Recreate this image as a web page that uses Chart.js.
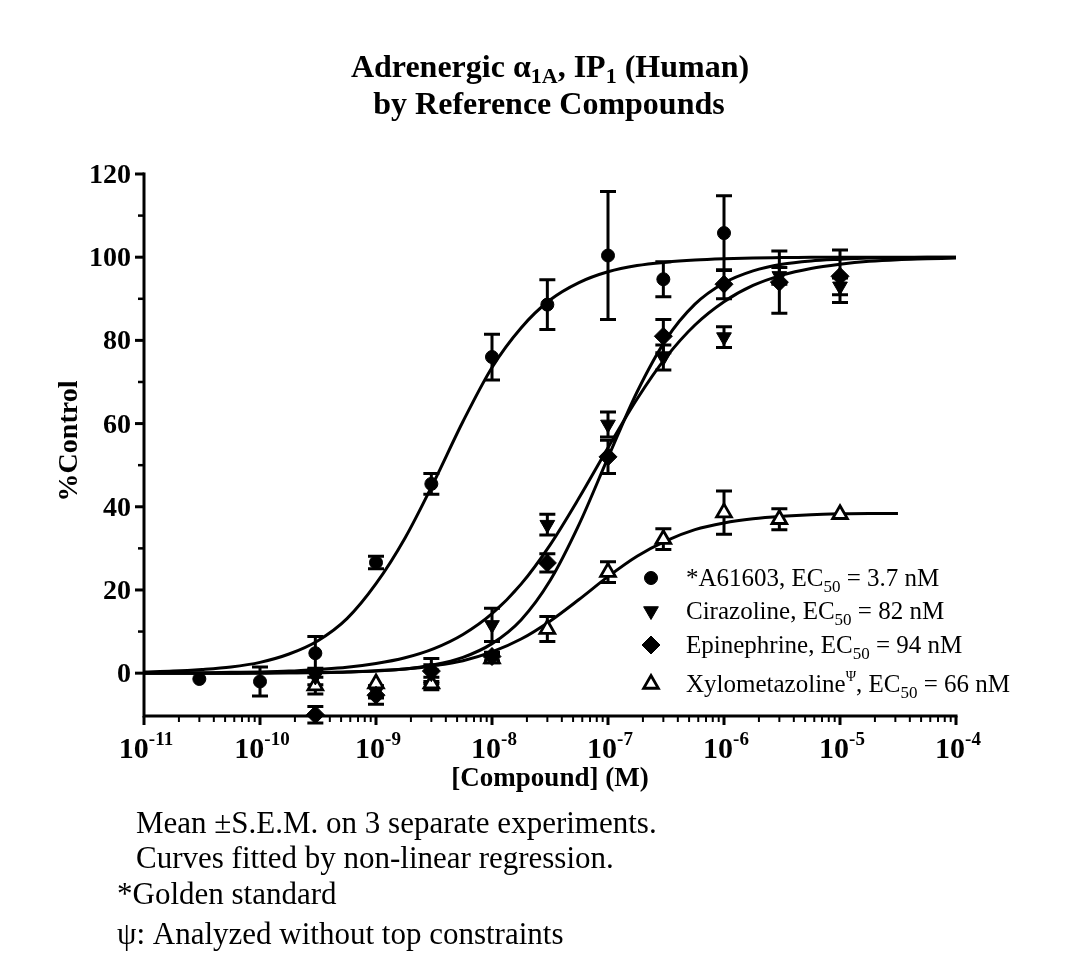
<!DOCTYPE html>
<html><head><meta charset="utf-8">
<script src="https://cdn.jsdelivr.net/npm/chart.js@4.4.1/dist/chart.umd.min.js"></script>
<style>html,body{margin:0;padding:0;background:#fff;overflow:hidden;} canvas{display:block;}</style>
</head><body>
<canvas id="c" width="1081" height="957"></canvas>
<script>
// ---------- data ----------
const concA = [3e-11, 1e-10, 3e-10, 1e-9, 3e-9, 1e-8, 3e-8, 1e-7, 3e-7, 1e-6];
const a61603Mean = [-1.4, -2.0, 4.8, 26.6, 45.5, 76.0, 88.6, 100.4, 94.7, 105.8];
const a61603Sem  = [0, 3.5, 4.0, 1.5, 2.5, 5.5, 6.0, 15.4, 4.2, 9.0];

const concB = [3e-10, 1e-9, 3e-9, 1e-8, 3e-8, 1e-7, 3e-7, 1e-6, 3e-6, 1e-5];
const cirazolineMean = [-0.8, -4.5, 0.0, 11.6, 35.7, 59.8, 75.9, 80.8, 95.5, 93.0];
const cirazolineSem  = [2.0, 1.5, 2.0, 4.0, 2.5, 3.0, 3.0, 2.5, 2.0, 2.0];
const epinephrineMean = [-10.0, -5.3, 0.5, 4.0, 26.5, 52.0, 81.0, 93.5, 94.0, 95.4];
const epinephrineSem  = [2.0, 2.2, 3.0, 1.0, 2.2, 4.0, 4.0, 3.5, 7.5, 6.3];
const xyloMean = [-3.0, -2.5, -2.5, 3.5, 10.6, 24.3, 32.2, 38.6, 37.0, 38.2];
const xyloSem  = [2.0, 0, 1.5, 1.0, 3.0, 2.5, 2.5, 5.2, 2.5, 0];

// fitted curves, read at quarter-decade steps
const curveConc = [1e-11, 1.78e-11, 3.16e-11, 5.62e-11, 1e-10, 1.78e-10, 3.16e-10, 5.62e-10,
  1e-9, 1.78e-9, 3.16e-9, 5.62e-9, 1e-8, 1.78e-8, 3.16e-8, 5.62e-8, 1e-7, 1.78e-7, 3.16e-7, 5.62e-7,
  1e-6, 1.78e-6, 3.16e-6, 5.62e-6, 1e-5, 1.78e-5, 3.16e-5, 5.62e-5, 1e-4];
const a61603Curve = [0.3, 0.5, 0.9, 1.5, 2.6, 4.6, 7.8, 13.1, 21.5, 32.5, 46.0, 60.5, 73.5, 83.0, 89.7, 93.9,
  96.5, 98.0, 98.8, 99.3, 99.6, 99.8, 99.9, 100, 100, 100, 100, 100, 100];
const cirazolineCurve = [0.1, 0.1, 0.1, 0.2, 0.3, 0.5, 0.9, 1.4, 2.3, 3.7, 5.9, 9.3, 14.3, 21.4, 30.8, 42.1,
  54.2, 65.9, 75.9, 83.7, 89.3, 93.2, 95.7, 97.3, 98.3, 99.0, 99.4, 99.6, 99.8];
const epinephrineCurve = [0, 0, 0, 0, 0, 0.1, 0.1, 0.3, 0.5, 1.0, 2.0, 3.8, 7.1, 12.8, 22.2, 35.7,
  51.8, 67.6, 80.2, 88.7, 93.8, 96.7, 98.3, 99.1, 99.5, 99.8, 99.9, 100, 100];
const xyloCurve = [0, 0, 0, 0, 0.1, 0.1, 0.2, 0.3, 0.6, 1.0, 1.8, 3.0, 5.1, 8.2, 12.5, 17.7,
  23.2, 28.1, 31.8, 34.5, 36.1, 37.1, 37.7, 38.1, 38.3, 38.4, 38.4, null, null];

// axes / ticks / text
const xTickValues = [1e-11, 1e-10, 1e-9, 1e-8, 1e-7, 1e-6, 1e-5, 1e-4];
const xTickSuperscripts = ['-11', '-10', '-9', '-8', '-7', '-6', '-5', '-4'];
const xMinorMultipliers = [2, 3, 4, 5, 6, 7, 8, 9];
const yTickValues = [0, 20, 40, 60, 80, 100, 120];
const yMinorValues = [10, 30, 50, 70, 90, 110];
const seriesNames = ['*A61603', 'Cirazoline', 'Epinephrine', 'Xylometazoline'];
const seriesEC50 = ['3.7 nM', '82 nM', '94 nM', '66 nM'];
const footnotes = ['Mean \u00B1S.E.M. on 3 separate experiments.', 'Curves fitted by non-linear regression.',
  '*Golden standard', '\u03C8: Analyzed without top constraints'];

// ---------- rendering ----------
const SERIF = '"Liberation Serif", "Times New Roman", serif';
const pts = (xs, ys) => xs.map((x, i) => ({x: x, y: ys[i]})).filter(p => p.y !== null);

function curveDs(ys) {
  return {type: 'line', data: pts(curveConc, ys), borderColor: '#000', borderWidth: 3,
    pointRadius: 0, cubicInterpolationMode: 'monotone', fill: false, order: 2, clip: false};
}
const markerStyles = [
  {pointStyle: 'circle', radius: 6.5, rotation: 0, fill: '#000', bw: 1},
  {pointStyle: 'triangle', radius: 8.5, rotation: 180, fill: '#000', bw: 1},
  {pointStyle: 'rectRot', radius: 9, rotation: 0, fill: '#000', bw: 1},
  {pointStyle: 'triangle', radius: 8.5, rotation: 0, fill: '#fff', bw: 2.8}
];
function pointDs(xs, ys, sem, k) {
  const m = markerStyles[k];
  return {type: 'scatter', data: pts(xs, ys), sem: sem, pointStyle: m.pointStyle, pointRadius: m.radius,
    rotation: m.rotation, backgroundColor: m.fill, borderColor: '#000', borderWidth: m.bw,
    showLine: false, order: 1, clip: false};
}

function drawRuns(ctx, runs, x, y, align) {
  let total = 0;
  runs.forEach(r => { ctx.font = r.font; r.w = ctx.measureText(r.t).width; total += r.w; });
  let cx = align === 'center' ? x - total / 2 : (align === 'right' ? x - total : x);
  ctx.textAlign = 'left'; ctx.textBaseline = 'alphabetic';
  runs.forEach(r => { ctx.font = r.font; ctx.fillText(r.t, cx, y + (r.dy || 0)); cx += r.w; });
}

const errorBars = {
  id: 'errorBars',
  beforeDatasetsDraw(chart) {
    const ctx = chart.ctx, xs = chart.scales.x, ys = chart.scales.y;
    ctx.save(); ctx.strokeStyle = '#000'; ctx.lineWidth = 3; ctx.lineCap = 'butt';
    chart.data.datasets.forEach(ds => {
      if (!ds.sem) return;
      ds.data.forEach((p, i) => {
        const s = ds.sem[i]; if (!s) return;
        const px = xs.getPixelForValue(p.x);
        const yt = ys.getPixelForValue(p.y + s), yb = ys.getPixelForValue(p.y - s);
        ctx.beginPath();
        ctx.moveTo(px, yt); ctx.lineTo(px, yb);
        ctx.moveTo(px - 8, yt); ctx.lineTo(px + 8, yt);
        ctx.moveTo(px - 8, yb); ctx.lineTo(px + 8, yb);
        ctx.stroke();
      });
    });
    ctx.restore();
  }
};

const decor = {
  id: 'decor',
  afterDraw(chart) {
    const ctx = chart.ctx, xs = chart.scales.x, ys = chart.scales.y, a = chart.chartArea;
    ctx.save();
    ctx.fillStyle = '#000'; ctx.strokeStyle = '#000';
    // axis lines
    ctx.lineWidth = 3; ctx.lineCap = 'square';
    ctx.beginPath();
    ctx.moveTo(a.left, ys.getPixelForValue(120)); ctx.lineTo(a.left, a.bottom);
    ctx.lineTo(xs.getPixelForValue(1e-4), a.bottom);
    ctx.stroke();
    ctx.lineCap = 'butt';
    // y ticks
    ctx.lineWidth = 3;
    yTickValues.forEach(v => {
      const py = ys.getPixelForValue(v);
      ctx.beginPath(); ctx.moveTo(a.left - 9, py); ctx.lineTo(a.left, py); ctx.stroke();
      drawRuns(ctx, [{t: String(v), font: 'bold 28px ' + SERIF}], a.left - 13, py + 9, 'right');
    });
    ctx.lineWidth = 2.5;
    yMinorValues.forEach(v => {
      const py = ys.getPixelForValue(v);
      ctx.beginPath(); ctx.moveTo(a.left - 6, py); ctx.lineTo(a.left, py); ctx.stroke();
    });
    // x ticks
    xTickValues.forEach((v, i) => {
      const px = xs.getPixelForValue(v);
      ctx.lineWidth = 3;
      ctx.beginPath(); ctx.moveTo(px, a.bottom); ctx.lineTo(px, a.bottom + 9); ctx.stroke();
      drawRuns(ctx, [{t: '10', font: 'bold 30px ' + SERIF},
        {t: xTickSuperscripts[i], font: 'bold 19px ' + SERIF, dy: -13}], px + 2, a.bottom + 42, 'center');
      if (i < xTickValues.length - 1) {
        ctx.lineWidth = 2;
        xMinorMultipliers.forEach(m => {
          const mx = xs.getPixelForValue(v * m);
          ctx.beginPath(); ctx.moveTo(mx, a.bottom); ctx.lineTo(mx, a.bottom + 6); ctx.stroke();
        });
      }
    });
    // axis titles
    drawRuns(ctx, [{t: '[Compound] (M)', font: 'bold 27px ' + SERIF}], 550, 786, 'center');
    ctx.save();
    ctx.translate(77, 441); ctx.rotate(-Math.PI / 2);
    drawRuns(ctx, [{t: '%Control', font: 'bold 28px ' + SERIF}], 0, 0, 'center');
    ctx.restore();
    // chart title
    const tb = 'bold 32px ' + SERIF, ts = 'bold 22px ' + SERIF;
    drawRuns(ctx, [{t: 'Adrenergic \u03B1', font: tb}, {t: '1A', font: ts, dy: 6},
      {t: ', IP', font: tb}, {t: '1', font: ts, dy: 6}, {t: ' (Human)', font: tb}], 550, 77, 'center');
    drawRuns(ctx, [{t: 'by Reference Compounds', font: tb}], 549, 114, 'center');
    // legend
    const rows = [578, 611, 645, 684];
    const lf = '25px ' + SERIF, lsub = '17px ' + SERIF, lsup = '14px ' + SERIF;
    rows.forEach((ry, k) => {
      const m = markerStyles[k];
      ctx.fillStyle = m.fill; ctx.strokeStyle = '#000'; ctx.lineWidth = m.bw;
      Chart.helpers.drawPoint(ctx, {pointStyle: m.pointStyle, radius: m.radius, rotation: m.rotation, borderWidth: m.bw}, 651, ry);
      ctx.fillStyle = '#000';
      const runs = [{t: seriesNames[k], font: lf}];
      if (k === 3) runs.push({t: '\u03A8', font: lsup, dy: -11});
      runs.push({t: ', EC', font: lf}, {t: '50', font: lsub, dy: 6}, {t: ' = ' + seriesEC50[k], font: lf});
      drawRuns(ctx, runs, 686, ry + 8, 'left');
    });
    // footnotes
    const ff = '31px ' + SERIF;
    const fx = [136, 136, 117, 117], fy = [833, 868, 904, 944];
    footnotes.forEach((t, i) => drawRuns(ctx, [{t: t, font: ff}], fx[i], fy[i], 'left'));
    ctx.restore();
  }
};

new Chart(document.getElementById('c'), {
  type: 'scatter',
  data: {
    datasets: [
      curveDs(a61603Curve), curveDs(cirazolineCurve), curveDs(epinephrineCurve), curveDs(xyloCurve),
      pointDs(concA, a61603Mean, a61603Sem, 0),
      pointDs(concB, cirazolineMean, cirazolineSem, 1),
      pointDs(concB, epinephrineMean, epinephrineSem, 2),
      pointDs(concB, xyloMean, xyloSem, 3)
    ]
  },
  options: {
    responsive: false, animation: false, devicePixelRatio: 1,
    layout: {padding: {left: 144, right: 125, top: 174, bottom: 241}},
    plugins: {legend: {display: false}, tooltip: {enabled: false}, title: {display: false}},
    scales: {
      x: {type: 'logarithmic', min: 1e-11, max: 1e-4, display: false},
      y: {type: 'linear', min: -10.3, max: 120, display: false}
    }
  },
  plugins: [errorBars, decor]
});
</script>
</body></html>
